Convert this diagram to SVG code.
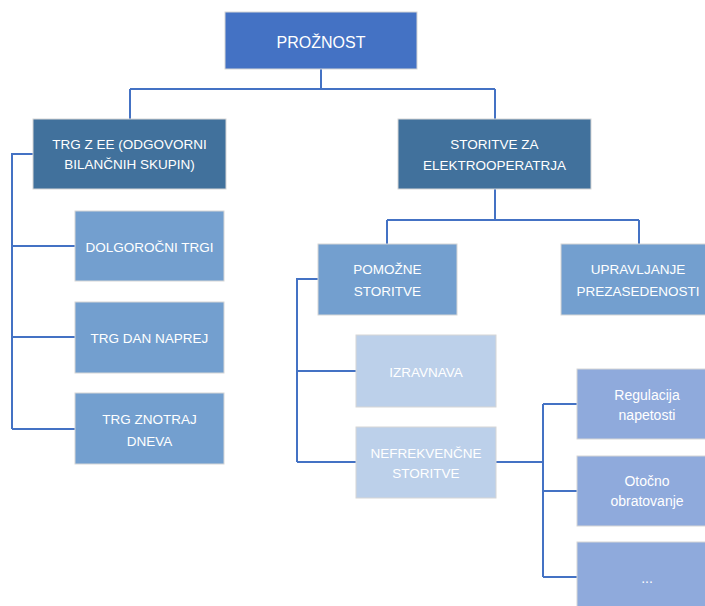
<svg xmlns="http://www.w3.org/2000/svg" width="705" height="606" viewBox="0 0 705 606">
<style>
.box{stroke:#D6D6D6;stroke-width:1}
.l0{fill:#4472C4}
.l1{fill:#41719C}
.l2{fill:#739FCF}
.l3{fill:#BCD0EA}
.l4{fill:#8FAADC}
text{font-family:"Liberation Sans",Arial,sans-serif;fill:#FFFFFF;text-anchor:middle;font-size:13.5px}
.big{font-size:16px}
.lc{font-size:14px}
#conn path{fill:none;stroke:#4472C4;stroke-width:2}
</style>
<rect x="0" y="0" width="705" height="606" fill="#FFFFFF"/>
<g id="conn">
<path d="M321,69V89M130,89H495M130,89V119M495,89V119"/>
<path d="M33,154H12V429M12,246H75M12,337H75M12,429H75"/>
<path d="M495,189V220M387,220H639M387,220V244M639,220V244"/>
<path d="M318,279H297V462M297,371H356M297,462H356"/>
<path d="M496,462H543M543,404V577M543,404H577M543,491H577M543,577H577"/>
</g>
<g id="n-proznost"><rect class="box l0" x="225" y="12" width="192" height="57"/><text class="big" x="321" y="48">PROŽNOST</text></g>
<g id="n-trg"><rect class="box l1" x="33" y="119" width="193" height="70"/><text x="129.5" y="149">TRG Z EE (ODGOVORNI</text><text x="129.5" y="169">BILANČNIH SKUPIN)</text></g>
<g id="n-storitve"><rect class="box l1" x="398" y="119" width="193" height="70"/><text x="494.5" y="149">STORITVE ZA</text><text x="494.5" y="170">ELEKTROOPERATRJA</text></g>
<g id="n-dolgorocni"><rect class="box l2" x="75" y="211" width="149" height="70"/><text x="149.5" y="252">DOLGOROČNI TRGI</text></g>
<g id="n-dannaprej"><rect class="box l2" x="75" y="302" width="149" height="71"/><text x="149.5" y="343">TRG DAN NAPREJ</text></g>
<g id="n-znotraj"><rect class="box l2" x="75" y="393" width="149" height="71"/><text x="149.5" y="424">TRG ZNOTRAJ</text><text x="149.5" y="446">DNEVA</text></g>
<g id="n-pomozne"><rect class="box l2" x="318" y="244" width="139" height="71"/><text x="387.5" y="274">POMOŽNE</text><text x="387.5" y="296">STORITVE</text></g>
<g id="n-upravljanje"><rect class="box l2" x="561" y="244" width="155" height="71"/><text x="638" y="274">UPRAVLJANJE</text><text x="638" y="296">PREZASEDENOSTI</text></g>
<g id="n-izravnava"><rect class="box l3" x="356" y="335" width="140" height="72"/><text x="426" y="377">IZRAVNAVA</text></g>
<g id="n-nefrekvencne"><rect class="box l3" x="356" y="427" width="140" height="71"/><text x="426" y="458">NEFREKVENČNE</text><text x="426" y="478">STORITVE</text></g>
<g id="n-regulacija"><rect class="box l4" x="577" y="369" width="140" height="70"/><text class="lc" x="647" y="400">Regulacija</text><text class="lc" x="647" y="420">napetosti</text></g>
<g id="n-otocno"><rect class="box l4" x="577" y="456" width="140" height="70"/><text class="lc" x="647" y="486">Otočno</text><text class="lc" x="647" y="506">obratovanje</text></g>
<g id="n-more"><rect class="box l4" x="577" y="542" width="140" height="70"/><text class="lc" x="647" y="583">...</text></g>
</svg>
